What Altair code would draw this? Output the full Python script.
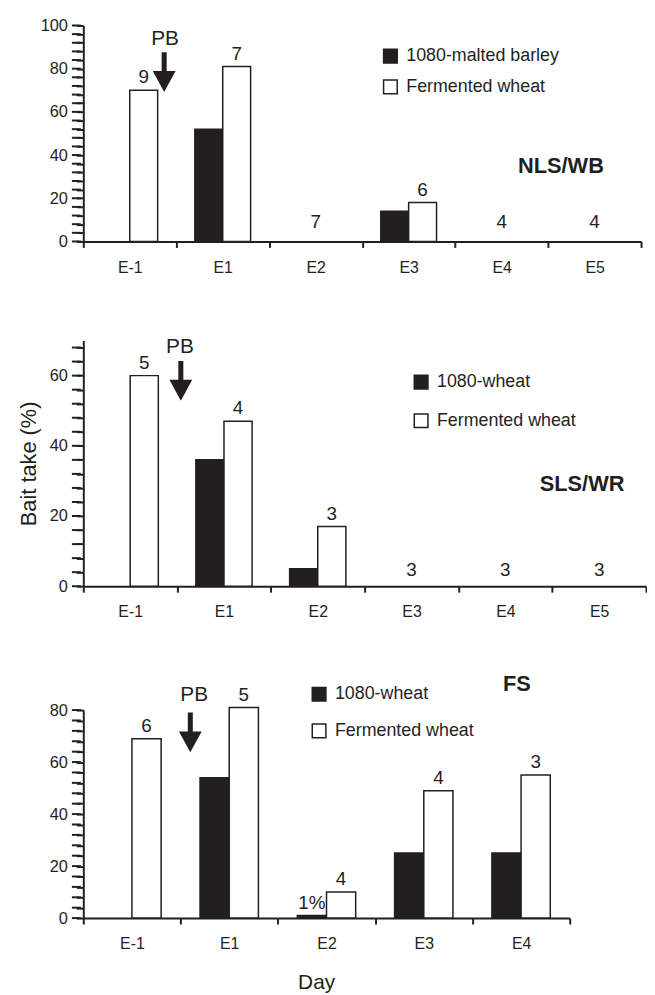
import altair as alt
import pandas as pd

FONT = "Liberation Sans"
INK = "#231f20"

# ---------------- data ----------------
days_nls = ["E-1", "E1", "E2", "E3", "E4", "E5"]
toxic_nls = [0, 52, 0, 14, 0, 0]
fermented_nls = [70, 81, 0, 18, 0, 0]
counts_nls = ["9", "7", "7", "6", "4", "4"]
toxic_labels_nls = ["", "", "", "", "", ""]
series_nls = ["1080-malted barley", "Fermented wheat"]

days_sls = ["E-1", "E1", "E2", "E3", "E4", "E5"]
toxic_sls = [0, 36, 5, 0, 0, 0]
fermented_sls = [60, 47, 17, 0, 0, 0]
counts_sls = ["5", "4", "3", "3", "3", "3"]
toxic_labels_sls = ["", "", "", "", "", ""]
series_sls = ["1080-wheat", "Fermented wheat"]

days_fs = ["E-1", "E1", "E2", "E3", "E4"]
toxic_fs = [0, 54, 1, 25, 25]
fermented_fs = [69, 81, 10, 49, 55]
counts_fs = ["6", "5", "4", "4", "3"]
toxic_labels_fs = ["", "", "1%", "", ""]
series_fs = ["1080-wheat", "Fermented wheat"]

panel_names = ["NLS/WB", "SLS/WR", "FS"]
y_max = [100, 70, 80]
y_tick_step = 4
pb_text = "PB"
pb_day = ["E-1", "E1", "E1"]
pb_arrow_value = [78.4, 58.5, 71.4]
pb_text_value = [93.8, 68.2, 85.8]
name_day = ["E5", "E5", "E4"]
name_value = [35, 29, 90]

ARROW = "M-0.22,-1.74L0.22,-1.74L0.22,-0.09L1,-0.09L0,1.74L-1,-0.09L-0.22,-0.09Z"


def panel(days, toxic, ferm, counts, toxic_labels, series, ymax, idx,
          width, height, ytitle, xtitle, pb_band, name_band,
          legend_x, legend_y, row_pad, empty_dy, title_x=None):
    bars = []
    lab = []
    empty = []
    for d, t, f, c, tl in zip(days, toxic, ferm, counts, toxic_labels):
        if t > 0:
            bars.append({"day": d, "series": series[0], "value": t})
        if f > 0:
            bars.append({"day": d, "series": series[1], "value": f})
            lab.append({"day": d, "series": series[1], "value": f, "label": c})
        if tl:
            lab.append({"day": d, "series": series[0], "value": t, "label": tl})
        if t == 0 and f == 0:
            empty.append({"day": d, "value": 0, "label": c})
    bars = pd.DataFrame(bars)
    lab = pd.DataFrame(lab)
    empty = pd.DataFrame(empty)
    ann = pd.DataFrame([{"day": pb_day[idx], "value": pb_arrow_value[idx],
                         "tvalue": pb_text_value[idx], "label": pb_text,
                         "nday": name_day[idx], "nvalue": name_value[idx],
                         "name": panel_names[idx]}])
    tick_vals = list(range(0, ymax + 1, y_tick_step))
    ticks = pd.DataFrame({"value": tick_vals})

    xkw = {}
    if title_x is not None:
        xkw["titleX"] = title_x
    xaxis = alt.Axis(tickBand="extent", tickSize=6, tickWidth=2, domainWidth=2,
                     labelAngle=0, labelPadding=12, labelFontSize=16,
                     titleFontSize=21, titleFontWeight="normal", titlePadding=20,
                     **xkw)
    xscale = alt.Scale(domain=days, paddingInner=0, paddingOuter=0)
    yaxis = alt.Axis(values=tick_vals,
                     labelExpr="datum.value % 20 === 0 ? datum.label : ''",
                     ticks=True, tickSize=7, tickWidth=2, tickColor=INK,
                     domainWidth=2, labelPadding=9,
                     labelFontSize=16.5, labelFlush=False, labelOverlap=False,
                     grid=False, titleFontSize=22, titleFontWeight="normal",
                     titlePadding=9)
    yscale = alt.Scale(domain=[0, ymax], nice=False)
    offscale = alt.Scale(domain=series, paddingInner=0, paddingOuter=0.667)

    def X(field="day", band=None):
        kw = {}
        if band is not None:
            kw["bandPosition"] = band
        return alt.X(f"{field}:N", scale=xscale, axis=xaxis, title=xtitle, **kw)

    def Y(field="value"):
        return alt.Y(f"{field}:Q", scale=yscale, axis=yaxis, title=ytitle)

    bar_layer = alt.Chart(bars).mark_bar(stroke=INK, strokeWidth=1.5).encode(
        x=X(), y=Y(), xOffset=alt.XOffset("series:N", scale=offscale),
        fill=alt.Fill("series:N",
                      scale=alt.Scale(domain=series, range=[INK, "white"]),
                      legend=alt.Legend(orient="none", legendX=legend_x,
                                        legendY=legend_y, title=None,
                                        symbolType="square", symbolSize=190,
                                        symbolStrokeColor=INK,
                                        symbolStrokeWidth=1.5,
                                        labelFontSize=18, labelFont=FONT,
                                        labelColor=INK, rowPadding=row_pad,
                                        labelOffset=7, padding=0)))
    tick_layer = alt.Chart(ticks).mark_tick(
        orient="horizontal", size=9, thickness=2, color=INK, opacity=1).encode(
        y=Y(), x=alt.value(-7))
    lab_layer = alt.Chart(lab).mark_text(font=FONT, fontSize=19, color=INK,
                                         baseline="alphabetic", dy=-7).encode(
        x=X(), y=Y(), xOffset=alt.XOffset("series:N", scale=offscale),
        text="label:N")
    layers = [bar_layer, tick_layer, lab_layer]
    if len(empty):
        layers.append(alt.Chart(empty).mark_text(
            font=FONT, fontSize=19, color=INK, baseline="alphabetic",
            dy=empty_dy).encode(x=X(), y=Y(), text="label:N"))
    layers.append(alt.Chart(ann).mark_point(
        shape=ARROW, size=529, filled=True, color=INK, opacity=1).encode(
        x=X(band=pb_band[0]), y=Y()))
    layers.append(alt.Chart(ann).mark_text(
        font=FONT, fontSize=21, color=INK, baseline="middle").encode(
        x=X(band=pb_band[1]), y=Y("tvalue"), text="label:N"))
    layers.append(alt.Chart(ann).mark_text(
        font=FONT, fontSize=22, fontWeight="bold", color=INK, align="right",
        baseline="middle").encode(
        x=X("nday", band=name_band), y=Y("nvalue"), text="name:N"))
    return alt.layer(*layers).properties(width=width, height=height)


p1 = panel(days_nls, toxic_nls, fermented_nls, counts_nls, toxic_labels_nls,
           series_nls, y_max[0], 0, 563, 218, None, None, (0.87, 0.88), 0.6,
           301, 22, 11, -14)
p2 = panel(days_sls, toxic_sls, fermented_sls, counts_sls, toxic_labels_sls,
           series_sls, y_max[1], 1, 568, 248, "Bait take (%)", None,
           (0.04, 0.03), 0.77, 332, 33, 19, -10)
p3 = panel(days_fs, toxic_fs, fermented_fs, counts_fs, toxic_labels_fs,
           series_fs, y_max[2], 2, 491, 210, None, "Day", (0.1, 0.14), 0.6,
           229, -25, 17, -10, title_x=235)

indep = dict(x="independent", y="independent", fill="independent",
             xOffset="independent")

top = alt.vconcat(p1, p2, spacing=61).resolve_scale(**indep).resolve_legend(
    fill="independent")
chart = alt.vconcat(top, p3, spacing=53).resolve_scale(**indep).resolve_legend(
    fill="independent").properties(
    padding={"left": 9, "top": 5, "right": 0, "bottom": 0}
).configure_view(stroke=None).configure_axis(
    labelFont=FONT, titleFont=FONT, labelColor=INK, titleColor=INK,
    domainColor=INK, tickColor=INK)

chart.save("out.html", embed_options={"renderer": "svg", "actions": False})
